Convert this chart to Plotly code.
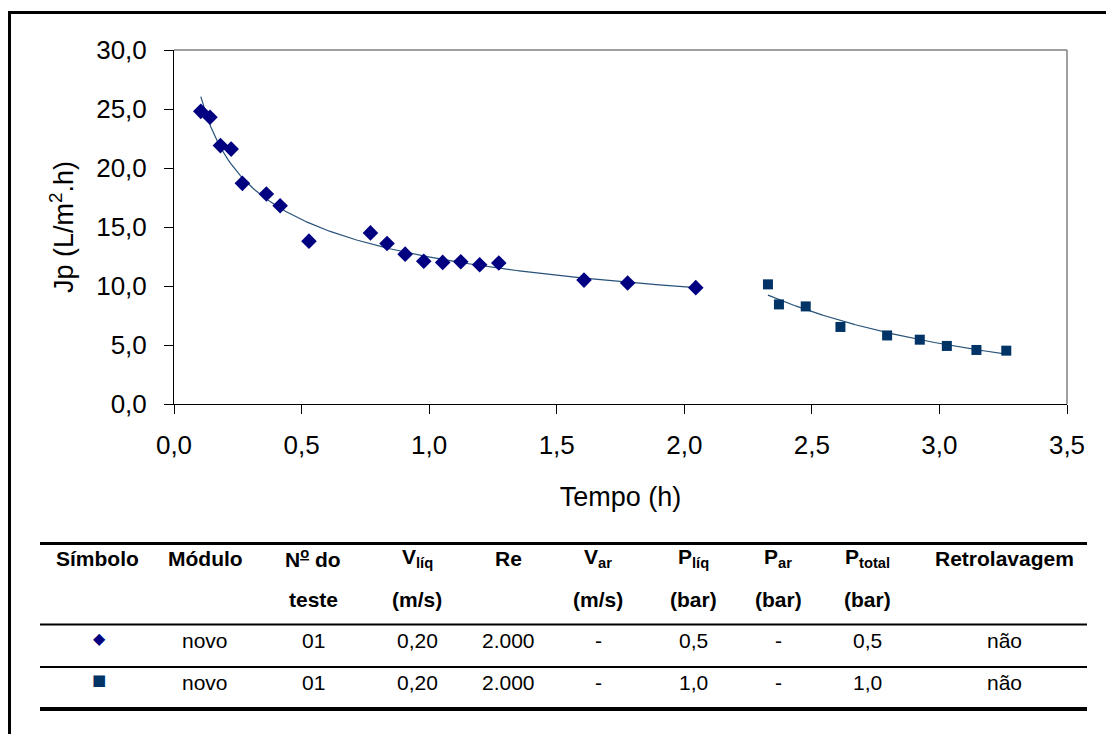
import numpy as np
import plotly.graph_objects as go

# ---------------- data ----------------
t_05bar = [0.105, 0.141, 0.182, 0.224, 0.268, 0.362, 0.416, 0.529, 0.770, 0.835,
           0.906, 0.979, 1.053, 1.124, 1.198, 1.273, 1.607, 1.778, 2.045]
jp_05bar = [24.8, 24.3, 21.9, 21.6, 18.7, 17.8, 16.8, 13.8, 14.5, 13.6,
            12.7, 12.1, 12.0, 12.05, 11.8, 11.95, 10.5, 10.25, 9.86]
t_10bar = [2.328, 2.371, 2.476, 2.612, 2.795, 2.923, 3.029, 3.145, 3.262]
jp_10bar = [10.14, 8.44, 8.27, 6.53, 5.81, 5.45, 4.92, 4.58, 4.52]

x_ticks = [0, 0.5, 1.0, 1.5, 2.0, 2.5, 3.0, 3.5]
y_ticks = [0, 5, 10, 15, 20, 25, 30]

table_header1 = ["<b>Símbolo</b>", "<b>Módulo</b>", "<b>N<sup><u>o</u></sup> do</b>", "<b>V<sub>líq</sub></b>",
                 "<b>Re</b>", "<b>V<sub>ar</sub></b>", "<b>P<sub>líq</sub></b>", "<b>P<sub>ar</sub></b>",
                 "<b>P<sub>total</sub></b>", "<b>Retrolavagem</b>"]
table_header2 = ["", "", "<b>teste</b>", "<b>(m/s)</b>", "", "<b>(m/s)</b>", "<b>(bar)</b>",
                 "<b>(bar)</b>", "<b>(bar)</b>", ""]
row1 = ["novo", "01", "0,20", "2.000", "-", "0,5", "-", "0,5", "não"]
row2 = ["novo", "01", "0,20", "2.000", "-", "1,0", "-", "1,0", "não"]

# ---------------- layout geometry ----------------
OFF = 8  # page body margin
W, H = 1114, 734
L, T = 174 - OFF, 50 - OFF
R = W - (1067 - OFF)
B = H - (404 - OFF)
PW, PH = W - L - R, H - T - B


def px(x):
    return (x - OFF - L) / PW


def py(y):
    return (H - B - (y - OFF)) / PH


FONT = "Arial, 'Liberation Sans', sans-serif"
navy = "#000080"
sqblue = "#003366"
trend = "#275278"


def power_fit(x, y):
    x = np.asarray(x, float)
    y = np.asarray(y, float)
    b, lna = np.polyfit(np.log(x), np.log(y), 1)
    xs = np.linspace(x.min(), x.max(), 200)
    return xs, np.exp(lna) * xs ** b


fig = go.Figure()

xs1, ys1 = power_fit(t_05bar, jp_05bar)
xs2, ys2 = power_fit(t_10bar, jp_10bar)
fig.add_trace(go.Scatter(x=xs1, y=ys1, mode="lines", line=dict(color=trend, width=1.2),
                         showlegend=False, hoverinfo="skip"))
fig.add_trace(go.Scatter(x=xs2, y=ys2, mode="lines", line=dict(color=trend, width=1.2),
                         showlegend=False, hoverinfo="skip"))
fig.add_trace(go.Scatter(x=t_05bar, y=jp_05bar, mode="markers",
                         marker=dict(symbol="diamond", size=12, color=navy), showlegend=False))
fig.add_trace(go.Scatter(x=t_10bar, y=jp_10bar, mode="markers",
                         marker=dict(symbol="square", size=10, color=sqblue), showlegend=False))

fig.update_xaxes(range=[0, 3.5], tickvals=x_ticks,
                 ticktext=[f"{v:.1f}".replace(".", ",") for v in x_ticks],
                 showgrid=False, zeroline=False, showline=True, linecolor="black", linewidth=1,
                 ticks="outside", ticklen=9, tickcolor="black", ticklabelstandoff=9,
                 tickfont=dict(family=FONT, size=26, color="black"),
                 title=dict(text="Tempo (h)", font=dict(family=FONT, size=27, color="black"), standoff=27))
fig.update_yaxes(range=[0, 30], tickvals=y_ticks,
                 ticktext=[f"{v:.1f}".replace(".", ",") for v in y_ticks],
                 showgrid=False, zeroline=False, showline=True, linecolor="black", linewidth=1,
                 ticks="outside", ticklen=9, tickcolor="black", ticklabelstandoff=12,
                 tickfont=dict(family=FONT, size=26, color="black"),
                 title=dict(text="Jp (L/m<sup>2</sup>.h)", font=dict(family=FONT, size=27, color="black"),
                            standoff=14))

shapes = []
# plot area top & right border (gray)
shapes.append(dict(type="line", xref="paper", yref="paper", x0=0, x1=1, y0=1, y1=1,
                   line=dict(color="#808080", width=1.5)))
shapes.append(dict(type="line", xref="paper", yref="paper", x0=1, x1=1, y0=0, y1=1,
                   line=dict(color="#808080", width=1.5)))
# outer frame
shapes.append(dict(type="line", xref="paper", yref="paper", x0=px(8.5), x1=px(1130), y0=py(12.5), y1=py(12.5),
                   line=dict(color="black", width=3)))
shapes.append(dict(type="line", xref="paper", yref="paper", x0=px(9.5), x1=px(9.5), y0=py(11), y1=py(760),
                   line=dict(color="black", width=3)))
# table rules
for yy, w in [(543.5, 3), (624.5, 2), (667, 2), (709, 4)]:
    shapes.append(dict(type="line", xref="paper", yref="paper", x0=px(40), x1=px(1087), y0=py(yy), y1=py(yy),
                       line=dict(color="black", width=w)))

col_x = [97, 205, 313, 417, 508, 598, 693, 778, 867, 1004]
TS = 21
annotations = []
for cx, h1, h2 in zip(col_x, table_header1, table_header2):
    annotations.append(dict(x=px(cx), y=py(558), xref="paper", yref="paper", text=h1, showarrow=False,
                            xanchor="center", yanchor="middle", font=dict(family=FONT, size=TS, color="black")))
    if h2:
        annotations.append(dict(x=px(cx), y=py(599), xref="paper", yref="paper", text=h2, showarrow=False,
                                xanchor="center", yanchor="middle", font=dict(family=FONT, size=TS, color="black")))
for yy, row, sym, col, ss in [(640, row1, "◆", navy, 16), (682, row2, "■", sqblue, 15)]:
    annotations.append(dict(x=px(99), y=py(yy - 2), xref="paper", yref="paper", text=sym, showarrow=False,
                            xanchor="center", yanchor="middle", font=dict(family="DejaVu Sans", size=ss, color=col)))
    for cx, txt in zip(col_x[1:], row):
        annotations.append(dict(x=px(cx), y=py(yy), xref="paper", yref="paper", text=txt, showarrow=False,
                                xanchor="center", yanchor="middle", font=dict(family=FONT, size=TS, color="black")))

fig.update_layout(width=W, height=H, margin=dict(l=L, r=R, t=T, b=B, autoexpand=False),
                  paper_bgcolor="white", plot_bgcolor="white", shapes=shapes, annotations=annotations,
                  showlegend=False)

fig.write_html("out.html")
